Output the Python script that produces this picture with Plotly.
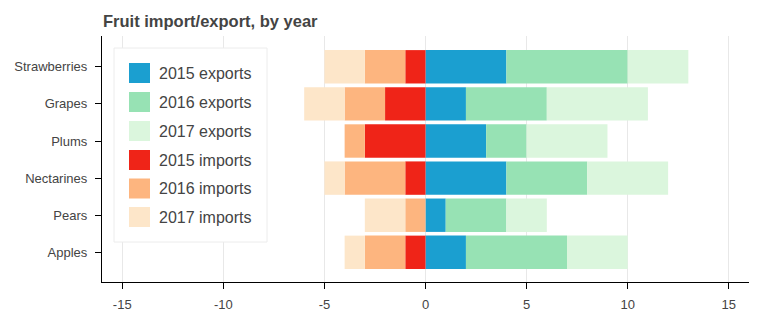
import plotly.graph_objects as go

fruits = ['Apples', 'Pears', 'Nectarines', 'Plums', 'Grapes', 'Strawberries']
years = ['2015', '2016', '2017']
exports_2015 = [2, 1, 4, 3, 2, 4]
exports_2016 = [5, 3, 4, 2, 4, 6]
exports_2017 = [3, 2, 4, 4, 5, 3]
imports_2015 = [-1, 0, -1, -3, -2, -1]
imports_2016 = [-2, -1, -3, -1, -2, -2]
imports_2017 = [-1, -2, -1, 0, -2, -2]
x_ticks = [-15, -10, -5, 0, 5, 10, 15]

export_colors = ['#1b9fd0', '#97e2b4', '#dbf6dd']
import_colors = ['#ef2418', '#fdb57f', '#fde6c9']

series = [
    ('2015 exports', exports_2015, export_colors[0]),
    ('2016 exports', exports_2016, export_colors[1]),
    ('2017 exports', exports_2017, export_colors[2]),
    ('2015 imports', imports_2015, import_colors[0]),
    ('2016 imports', imports_2016, import_colors[1]),
    ('2017 imports', imports_2017, import_colors[2]),
]

W, H = 761, 322
L, R, T, B = 102, 12, 36, 40
pw, ph = W - L - R, H - T - B

def px(xp):
    return (xp - L) / pw

def py(yp):
    return (H - B - yp) / ph

FONT = 'Liberation Sans, Arial, Helvetica, sans-serif'

fig = go.Figure()
for name, vals, color in series:
    fig.add_trace(go.Bar(
        y=fruits, x=vals, name=name, orientation='h',
        marker=dict(color=color, line=dict(width=0)),
        showlegend=False, hoverinfo='x+y+name',
    ))

shapes = []
annotations = []
# legend box
shapes.append(dict(type='rect', xref='paper', yref='paper',
                   x0=px(114), x1=px(267), y0=py(242), y1=py(48),
                   fillcolor='white', line=dict(color='#ececec', width=1),
                   layer='above'))
centers = [73, 102, 131, 160, 188.5, 217]
for (name, vals, color), cy in zip(series, centers):
    shapes.append(dict(type='rect', xref='paper', yref='paper',
                       x0=px(129), x1=px(150), y0=py(cy + 10), y1=py(cy - 10),
                       fillcolor=color, line=dict(width=0), layer='above'))
    annotations.append(dict(xref='paper', yref='paper', x=px(157), y=py(cy),
                            xanchor='left', yanchor='middle', text=name,
                            showarrow=False,
                            font=dict(family=FONT, size=16, color='#444444')))

fig.update_layout(
    width=W, height=H,
    margin=dict(l=L, r=R, t=T, b=B, autoexpand=False),
    barmode='relative', bargap=0.1,
    plot_bgcolor='white', paper_bgcolor='white',
    title=dict(text='<b>Fruit import/export, by year</b>', x=103 / W, xanchor='left',
               y=1 - 21 / H, yanchor='middle',
               font=dict(family=FONT, size=16.5, color='#444444')),
    shapes=shapes, annotations=annotations,
    showlegend=False,
    xaxis=dict(range=[-16, 16], tickvals=x_ticks, ticktext=[str(v) for v in x_ticks],
               showgrid=True, gridcolor='#e8e8e8', gridwidth=1, zeroline=False,
               showline=True, linecolor='black', linewidth=1.2,
               ticks='outside', ticklen=6, tickcolor='black',
               ticklabelstandoff=4, automargin=False,
               tickfont=dict(family=FONT, size=13, color='#444444')),
    yaxis=dict(type='category', categoryorder='array', categoryarray=fruits,
               range=[-0.8, 5.83], showgrid=False, zeroline=False,
               showline=True, linecolor='black', linewidth=1.2,
               ticks='outside', ticklen=6, tickcolor='black',
               ticklabelstandoff=5, automargin=False,
               tickfont=dict(family=FONT, size=13, color='#444444')),
)

fig.write_html('out.html')
